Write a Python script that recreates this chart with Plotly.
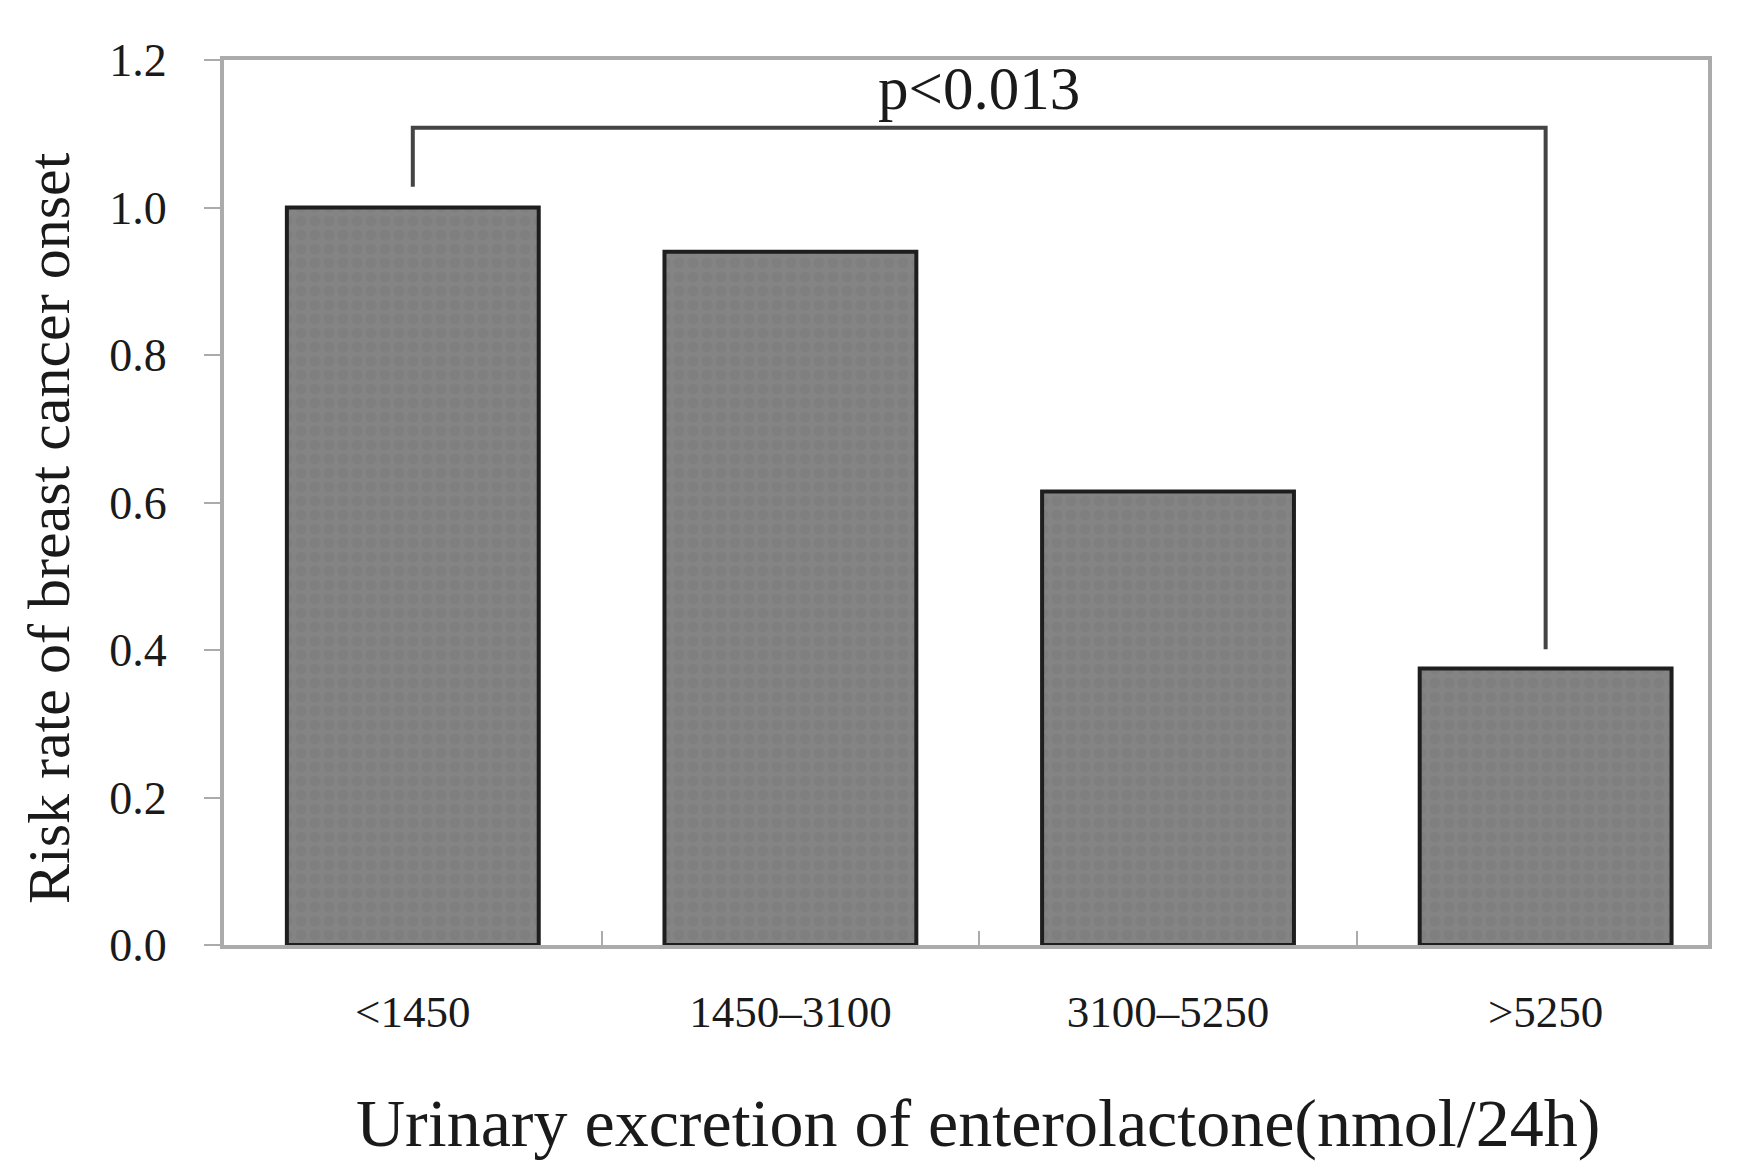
import plotly.graph_objects as go

# ---- data ----
categories = ["<1450", "1450\u20133100", "3100\u20135250", ">5250"]
risk_rate = [1.0, 0.94, 0.615, 0.375]
y_ticks = [0.0, 0.2, 0.4, 0.6, 0.8, 1.0, 1.2]
p_label = "p<0.013"
bracket_from = categories[0]
bracket_to = categories[3]
bracket_left_low = 1.028
bracket_top = 1.108
bracket_right_low = 0.401

FONT = "Liberation Serif, Times New Roman, serif"
AXIS_GRAY = "#ababab"
TEXT = "#1a1a1a"

# plot area geometry (pixels)
W, H = 1745, 1168
ML, MR, MT, MB = 216, 45, 52, 231
PW = W - ML - MR
PH = H - MT - MB

fig = go.Figure()

fig.add_trace(go.Bar(
    x=categories,
    y=risk_rate,
    width=0.667,
    marker=dict(
        color="#808080",
        line=dict(color="#1e1e1e", width=4),
        pattern=dict(shape=".", fgcolor="#7a7a7a", bgcolor="#848484",
                     size=14, solidity=0.5),
    ),
    hoverinfo="skip",
    showlegend=False,
))

fig.add_trace(go.Scatter(
    x=[bracket_from, bracket_from, bracket_to, bracket_to],
    y=[bracket_left_low, bracket_top, bracket_top, bracket_right_low],
    mode="lines",
    line=dict(color="#444444", width=4),
    hoverinfo="skip",
    showlegend=False,
))

fig.add_annotation(
    x=1.5, y=bracket_top, xref="x", yref="y",
    text=p_label, showarrow=False,
    xanchor="center", yanchor="bottom", yshift=4,
    font=dict(family=FONT, size=61, color=TEXT),
)

# axis titles as annotations positioned in paper coords
fig.add_annotation(
    x=(41 - ML) / PW, y=(H - MB - 520) / PH, xref="paper", yref="paper",
    text="Risk rate of breast cancer onset", textangle=-90, showarrow=False,
    xanchor="center", yanchor="middle",
    font=dict(family=FONT, size=60, color=TEXT),
)
fig.add_annotation(
    x=(970 - ML) / PW, y=(H - MB - 1115) / PH, xref="paper", yref="paper",
    text="Urinary excretion of enterolactone(nmol/24h)", showarrow=False,
    xanchor="center", yanchor="middle",
    font=dict(family=FONT, size=68, color=TEXT),
)

fig.update_layout(
    width=W, height=H,
    margin=dict(l=ML, r=MR, t=MT, b=MB),
    paper_bgcolor="white", plot_bgcolor="white",
    hovermode=False,
    xaxis=dict(
        type="category",
        categoryorder="array", categoryarray=categories,
        range=[-0.5, 3.43],
        showline=True, linecolor=AXIS_GRAY, linewidth=4, mirror=True,
        ticks="inside", tickson="boundaries", ticklen=14,
        tickcolor=AXIS_GRAY, tickwidth=2,
        showgrid=False, zeroline=False,
        tickfont=dict(family=FONT, size=45, color=TEXT),
        ticklabelstandoff=24,
    ),
    yaxis=dict(
        range=[0, 1.2],
        tickvals=y_ticks, tickformat=".1f",
        showline=True, linecolor=AXIS_GRAY, linewidth=4, mirror=True,
        ticks="outside", ticklen=16, tickcolor=AXIS_GRAY, tickwidth=2,
        showgrid=False, zeroline=False,
        tickfont=dict(family=FONT, size=46, color=TEXT),
        ticklabelstandoff=28,
    ),
)

fig.write_html("out.html", config={"displayModeBar": False})
